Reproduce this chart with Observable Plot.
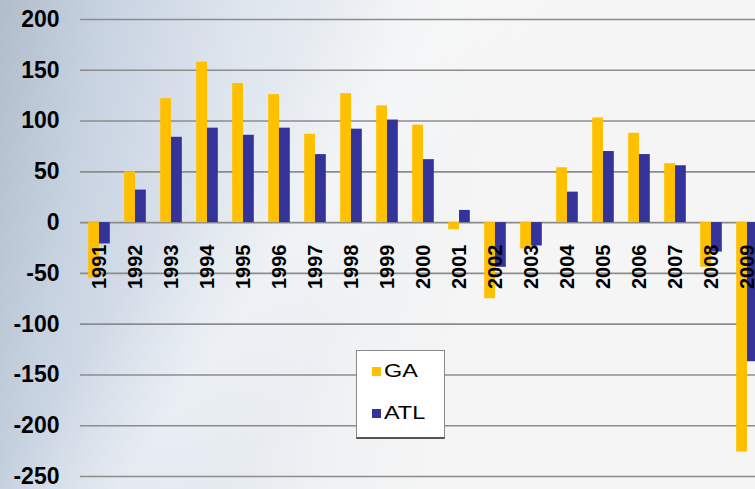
<!DOCTYPE html>
<html>
<head>
<meta charset="utf-8">
<script src="https://cdn.jsdelivr.net/npm/d3@7"></script>
<script src="https://cdn.jsdelivr.net/npm/@observablehq/plot@0.6"></script>
<style>
  html, body { margin: 0; padding: 0; width: 755px; height: 489px; overflow: hidden; }
  body {
    font-family: "Liberation Sans", Arial, sans-serif;
    background:
      linear-gradient(125deg, rgba(255,255,255,0) 30%, rgba(255,255,255,0.35) 42%, rgba(255,255,255,0) 52%),
      linear-gradient(100deg, #b2bdcc 0%, #c7d2e1 12%, #dfe6ee 30%, #eff1f3 48%, #f5f5f5 62%, #f5f5f5 100%);
  }
  #wrap { position: relative; width: 755px; height: 489px; }
  #legend {
    position: absolute; left: 356px; top: 350px; width: 87px; height: 86px;
    background: #ffffff; border: 1px solid #8a8a8a; border-bottom: 2px solid #555;
    font-family: "Liberation Sans", Arial, sans-serif; font-size: 18px; color: #000;
  }
  #legend .row { position: absolute; left: 15px; display: flex; align-items: center; }
  #legend .sw { width: 9px; height: 9px; margin-right: 3px; }
  #legend .tx { display: inline-block; transform: scaleX(1.3); transform-origin: left center; }
</style>
</head>
<body>
<div id="wrap">
  <div id="chart"></div>
  <div id="legend"></div>
</div>
<script>
const years = ["1991","1992","1993","1994","1995","1996","1997","1998","1999","2000",
               "2001","2002","2003","2004","2005","2006","2007","2008","2009"];
const gaValues  = [-55, 50, 122, 158, 137, 126, 87, 127, 115, 96, -7, -75, -26, 54, 103, 88, 58, -44, -226];
const atlValues = [-21, 32, 84, 93, 86, 93, 67, 92, 101, 62, 12, -44, -23, 30, 70, 67, 56, -29, -137];
const seriesNames = ["GA", "ATL"];
const seriesColors = ["#FFC000", "#333399"];
const yTicks = [-250, -200, -150, -100, -50, 0, 50, 100, 150, 200];

const ga = years.map((y, i) => ({year: y, value: gaValues[i]}));
const atl = years.map((y, i) => ({year: y, value: atlValues[i]}));

const half = 10.8;

const chart = Plot.plot({
  width: 755,
  height: 489,
  marginTop: 19,
  marginBottom: 13,
  marginLeft: 80,
  marginRight: -11,
  style: {background: "transparent", fontFamily: "Liberation Sans, Arial, sans-serif", overflow: "visible"},
  x: {type: "band", domain: years, paddingInner: 0.4, paddingOuter: 0.228, round: false, axis: null, label: null},
  y: {domain: [-250, 200], axis: null, label: null},
  marks: [
    Plot.ruleY(yTicks, {stroke: "#8c8c8c", strokeWidth: 1.6}),
    Plot.ruleX([0], {x: () => 80, y1: -250, y2: 200, stroke: "#8c8c8c", strokeWidth: 1.6}),
    Plot.barY(ga, {x: "year", y: "value", fill: seriesColors[0], insetLeft: 0, insetRight: half}),
    Plot.barY(atl, {x: "year", y: "value", fill: seriesColors[1], insetLeft: half, insetRight: 0}),
    Plot.text(years, {x: d => d, y: 0, text: d => d, rotate: -90, textAnchor: "end", dy: 22,
      fontSize: 20, fontWeight: "bold", fill: "#000", ariaLabel: "years"}),
    Plot.axisY(yTicks, {tickSize: 0, tickPadding: 21, tickFormat: d => String(d), fontSize: 23,
      fontWeight: "bold", fill: "#000", anchor: "left", label: null})
  ]
});
document.getElementById("chart").appendChild(chart);

// widen the year glyphs slightly, as in the reference
d3.select(chart).selectAll('g[aria-label="years"] text').each(function() {
  const t = this.getAttribute("transform") || "";
  this.setAttribute("transform", t + " scale(1.03,1.25)");
});

// legend
const legend = document.getElementById("legend");
seriesNames.forEach((name, i) => {
  const row = document.createElement("div");
  row.className = "row";
  row.style.top = (i === 0 ? 10 : 52) + "px";
  const sw = document.createElement("span");
  sw.className = "sw";
  sw.style.background = seriesColors[i];
  const tx = document.createElement("span");
  tx.className = "tx";
  tx.textContent = name;
  row.appendChild(sw);
  row.appendChild(tx);
  legend.appendChild(row);
});
</script>
</body>
</html>
